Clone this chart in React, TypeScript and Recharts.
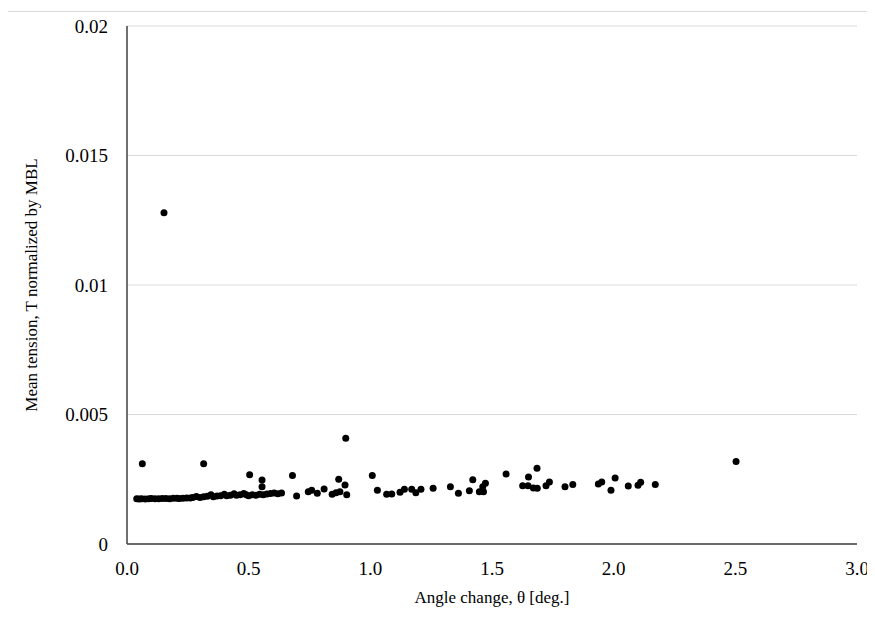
import React from 'react';
import { ScatterChart, Scatter, XAxis, YAxis, CartesianGrid, Label } from 'recharts';

// angle change [deg] and mean tension / MBL
const angle = [
  0.04, 0.05, 0.06, 0.075, 0.09, 0.10, 0.115, 0.13, 0.145, 0.16, 0.175, 0.19, 0.205, 0.215, 0.23, 0.245,
  0.26, 0.27, 0.285, 0.30, 0.315, 0.33, 0.345, 0.355, 0.37, 0.385, 0.40, 0.41, 0.425, 0.44, 0.45, 0.465,
  0.48, 0.49, 0.50, 0.515, 0.53, 0.545, 0.56, 0.575, 0.59, 0.605, 0.62, 0.635,
  0.063, 0.315, 0.152, 0.899, 0.504, 0.555, 0.555, 0.68, 0.697, 0.745, 0.759, 0.782, 0.81, 0.843,
  0.859, 0.875, 0.87, 0.896, 0.903, 1.008, 1.029, 1.067, 1.088, 1.122, 1.14, 1.17, 1.187, 1.208,
  1.258, 1.329, 1.362, 1.407, 1.421, 1.448, 1.465, 1.462, 1.473, 1.558, 1.626, 1.648, 1.67, 1.686,
  1.65, 1.685, 1.722, 1.736, 1.80, 1.832, 1.937, 1.951, 1.989, 2.006, 2.06, 2.1, 2.111, 2.171, 2.503,
];
const tension = [
  0.00175, 0.00174, 0.00175, 0.00174, 0.00175, 0.00176, 0.00175, 0.00175, 0.00176, 0.00176, 0.00175, 0.00177, 0.00177, 0.00176, 0.00177, 0.00178,
  0.00178, 0.0018, 0.00183, 0.0018, 0.00182, 0.00184, 0.0019, 0.00182, 0.00185, 0.00186, 0.00192, 0.00186, 0.00188, 0.00194, 0.00188, 0.0019,
  0.00195, 0.0019, 0.00186, 0.0019, 0.00188, 0.00192, 0.0019, 0.00193, 0.00195, 0.00197, 0.00194, 0.00197,
  0.0031, 0.0031, 0.01279, 0.00408, 0.00267, 0.00247, 0.00221, 0.00264, 0.00185, 0.00202, 0.00208, 0.00196, 0.00212, 0.00192,
  0.00198, 0.00202, 0.0025, 0.00228, 0.0019, 0.00264, 0.00208, 0.00192, 0.00193, 0.002, 0.00211, 0.00211, 0.00198, 0.00211,
  0.00215, 0.00221, 0.00196, 0.00206, 0.00248, 0.00202, 0.00202, 0.00221, 0.00235, 0.0027, 0.00225, 0.00225, 0.00216, 0.00215,
  0.00259, 0.00292, 0.00225, 0.00239, 0.00221, 0.0023, 0.00232, 0.00239, 0.00208, 0.00255, 0.00224, 0.00227, 0.00238, 0.0023, 0.00319,
];

const xTicks = [0, 0.5, 1.0, 1.5, 2.0, 2.5, 3.0];
const yTicks = [0, 0.005, 0.01, 0.015, 0.02];

const data = angle.map((a, i) => ({ x: a, y: tension[i] }));

const font = '"Liberation Serif", "Times New Roman", serif';
const tickFont = { fontFamily: font, fontSize: 19, fill: '#000' };
const axisLine = { stroke: '#404040', strokeWidth: 1.5 };

const XTick = ({ x, y, payload }: any) => (
  <text x={x} y={y} dy="0.71em" textAnchor="middle" style={tickFont}>
    {Number(payload.value).toFixed(1)}
  </text>
);

const YTick = ({ x, y, payload }: any) => (
  <text x={x} y={y} dy="0.355em" textAnchor="end" style={tickFont}>
    {String(payload.value)}
  </text>
);

export default function App() {
  // keep the page under the window height so no scrollbar eats the right edge
  return (
    <div style={{ marginLeft: -1, marginTop: 3, width: 867, height: 604, borderTop: '1px solid #d9d9d9', borderLeft: '1px solid #d9d9d9' }}>
      <ScatterChart width={866} height={604} margin={{ top: 14, right: 17, bottom: 0, left: 0 }}>
        <CartesianGrid vertical={false} stroke="#d9d9d9" />
        <XAxis
          type="number"
          dataKey="x"
          domain={[0, 3]}
          ticks={xTicks}
          tickLine={false}
          tickMargin={12}
          axisLine={axisLine}
          tick={XTick}
          height={72}
        >
          <Label value="Angle change, θ [deg.]" position="insideBottom" offset={13} style={{ fontFamily: font, fontSize: 17, fill: '#000' }} />
        </XAxis>
        <XAxis xAxisId="top" type="number" orientation="top" domain={[0, 3]} tick={false} tickLine={false} height={0} axisLine={axisLine} />
        <YAxis
          type="number"
          dataKey="y"
          domain={[0, 0.02]}
          ticks={yTicks}
          tickLine={false}
          tickMargin={13}
          axisLine={axisLine}
          tick={YTick}
          width={119}
        >
          <Label value="Mean tension, T normalized by MBL" angle={-90} position="insideLeft" offset={23} style={{ textAnchor: 'middle', fontFamily: font, fontSize: 17, fill: '#000' }} />
        </YAxis>
        <YAxis yAxisId="right" type="number" orientation="right" domain={[0, 0.02]} tick={false} tickLine={false} width={0} axisLine={axisLine} />
        <Scatter data={data} fill="#000" isAnimationActive={false} shape={(p: any) => <circle cx={p.cx} cy={p.cy} r={3.5} fill="#000" />} />
      </ScatterChart>
    </div>
  );
}
